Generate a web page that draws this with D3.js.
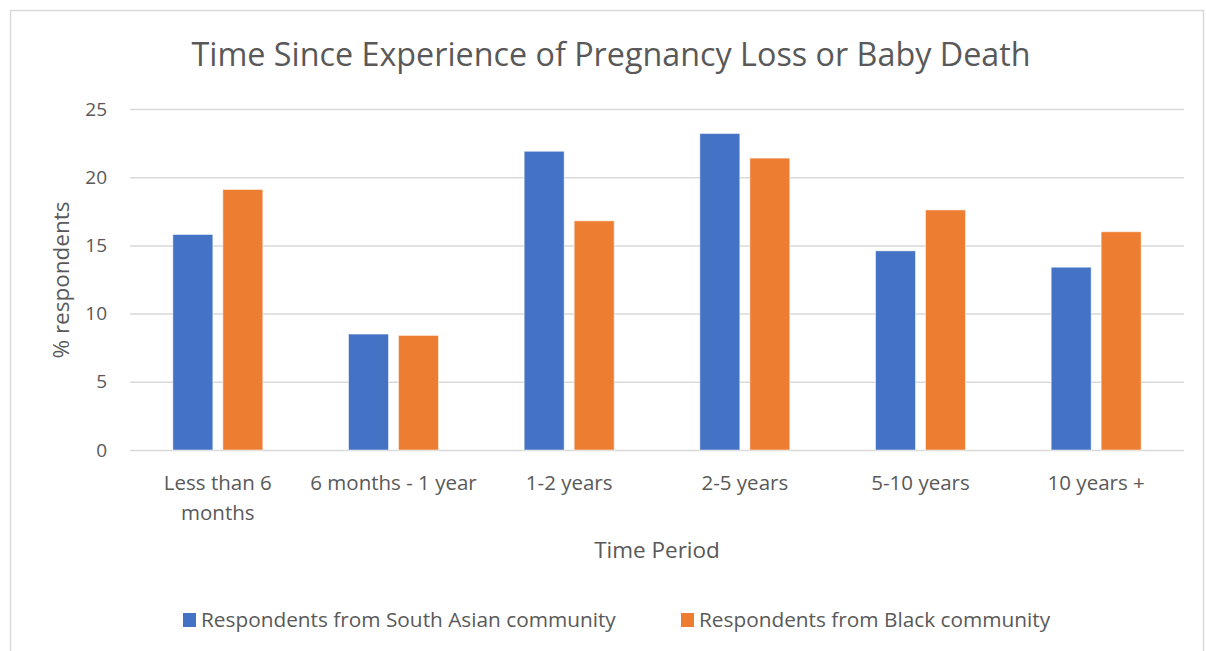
<!DOCTYPE html>
<html>
<head>
<meta charset="utf-8">
<script src="https://cdn.jsdelivr.net/npm/d3@7"></script>
<style>
  html, body { margin: 0; padding: 0; background: #fff; }
  svg { display: block; }
  text { font-family: "Open Sans", "Noto Sans", sans-serif; fill: #595959; }
</style>
</head>
<body>
<svg id="chart" width="1206" height="651"></svg>
<script>
// Time periods (x categories); "\n" splits a label over two lines
const categories = ["Less than 6\nmonths", "6 months - 1 year", "1-2 years", "2-5 years", "5-10 years", "10 years +"];
const seriesNames = ["Respondents from South Asian community", "Respondents from Black community"];
const southAsian = [15.8, 8.5, 21.9, 23.2, 14.6, 13.4];
const black = [19.1, 8.4, 16.8, 21.4, 17.6, 16.0];
const yTicks = [0, 5, 10, 15, 20, 25];
const colors = ["#4472C4", "#ED7D31"];

const svg = d3.select("#chart");
const W = 1206, H = 651;
const margin = { left: 130, right: 22, top: 109, bottom: 201 };
const plotW = W - margin.left - margin.right;
const plotH = H - margin.top - margin.bottom;

// Chart frame
svg.append("rect")
  .attr("x", 10.5).attr("y", 10.5)
  .attr("width", 1193).attr("height", 660)
  .attr("fill", "#fff").attr("stroke", "#d9d9d9").attr("stroke-width", 1.5);

const g = svg.append("g").attr("transform", `translate(${margin.left},${margin.top})`);

const x0 = d3.scaleBand().domain(categories).range([0, plotW]).paddingInner(0).paddingOuter(0);
const x1 = d3.scaleBand().domain([0, 1]).range([0, x0.bandwidth()]).paddingInner(0.2).paddingOuter(0.857);
const y = d3.scaleLinear().domain([0, 25]).range([plotH, 0]);

// Horizontal gridlines and value labels
const yAxis = d3.axisLeft(y).tickValues(yTicks).tickSize(-plotW).tickPadding(23).tickFormat(d3.format("d"));
const ya = g.append("g").call(yAxis);
ya.select(".domain").remove();
ya.selectAll(".tick line").attr("stroke", "#d9d9d9").attr("stroke-width", 1.5);
ya.selectAll(".tick text").attr("font-size", 19).style("fill", "#595959")
  .style("font-family", "'Open Sans', sans-serif");

// Bars
const rows = categories.map((c, i) => ({ c, v: [southAsian[i], black[i]] }));
const grp = g.selectAll(".grp").data(rows).join("g")
  .attr("transform", d => `translate(${x0(d.c)},0)`);
grp.selectAll("rect").data(d => d.v.map((v, k) => ({ v, k }))).join("rect")
  .attr("x", d => x1(d.k))
  .attr("width", x1.bandwidth())
  .attr("y", d => y(d.v))
  .attr("height", d => plotH - y(d.v))
  .attr("fill", d => colors[d.k])
  .attr("stroke", "#fff").attr("stroke-opacity", 0.5).attr("stroke-width", 1);

// Category labels
const xa = g.append("g").attr("transform", `translate(0,${plotH})`);
categories.forEach(c => {
  const cx = x0(c) + x0.bandwidth() / 2;
  const t = xa.append("text")
    .attr("x", cx)
    .attr("y", 40)
    .attr("text-anchor", "middle")
    .attr("font-size", 20.5);
  c.split("\n").forEach((line, i) => {
    t.append("tspan").attr("x", cx).attr("dy", i === 0 ? 0 : 30).text(line);
  });
});

// Title
svg.append("text")
  .attr("x", 611).attr("y", 66)
  .attr("text-anchor", "middle")
  .attr("font-size", 32.3)
  .text("Time Since Experience of Pregnancy Loss or Baby Death");

// Axis titles
svg.append("text")
  .attr("transform", "translate(69,280) rotate(-90)")
  .attr("text-anchor", "middle")
  .attr("font-size", 22.5)
  .text("% respondents");

svg.append("text")
  .attr("x", 657).attr("y", 558)
  .attr("text-anchor", "middle")
  .attr("font-size", 22.5)
  .text("Time Period");

// Legend
const legendX = [183, 681];
const lg = svg.selectAll(".leg").data(seriesNames).join("g")
  .attr("transform", (d, i) => `translate(${legendX[i]},613)`);
lg.append("rect").attr("width", 13).attr("height", 14).attr("fill", (d, i) => colors[i]);
lg.append("text").attr("x", 18).attr("y", 14).attr("font-size", 20.8).text(d => d);
</script>
</body>
</html>
